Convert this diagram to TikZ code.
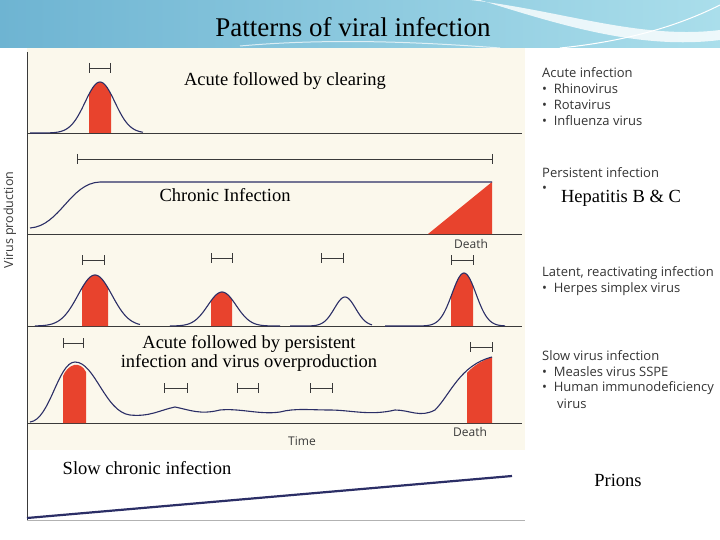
\documentclass[tikz,border=0pt]{standalone}
\usepackage{fontspec}
\setmainfont{Liberation Serif}
\newfontfamily\lab{Open Sans}
\begin{document}
\begin{tikzpicture}[x=1pt,y=-1pt]
\definecolor{cream}{HTML}{FBF8EC}
\definecolor{vred}{HTML}{E8432D}
\definecolor{navy}{HTML}{2B2E66}
\definecolor{axg}{HTML}{3A3A3A}
\tikzset{curve/.style={navy,line width=1.1pt},
 axis/.style={axg,line width=0.8pt},
 mk/.style={axg,line width=0.6pt},
 serif/.style={font=\fontsize{18.5}{19}\selectfont,align=center},
 lbl/.style={font=\lab\fontsize{13}{15}\selectfont,anchor=west,text=axg!90!black,inner sep=0}}
\newcommand\mymark[3]{\draw[mk] (#1,#3)--(#2,#3) (#1,#3-5)--(#1,#3+5) (#2,#3-5)--(#2,#3+5);}
\newcommand\mybell[8]{% c h s base a b r1 r2
 \ifx\relax#7\relax\else
 \fill[vred] (#7,#4) -- plot[domain=#7:#8,samples=30] (\x,{#4-#2*exp(-((\x-#1)/#3)^2)}) -- (#8,#4) -- cycle;\fi
 \draw[curve] plot[domain=#5:#6,samples=80] (\x,{#4-#2*exp(-((\x-#1)/#3)^2)});}
\useasboundingbox (0,0) rectangle (720,540);
\fill[white] (0,0) rectangle (720,540);
% banner
\shade[left color={rgb,255:red,110;green,180;blue,210}, right color={rgb,255:red,170;green,222;blue,235}] (0,0) rectangle (720,48);
\fill[white,opacity=0.8] (470,0) .. controls (560,10) and (640,40) .. (720,30) -- (720,40) .. controls (640,50) and (560,25) .. (480,0) -- cycle;
\draw[white,line width=1pt] (560,48) .. controls (640,40) and (690,20) .. (720,5);
\draw[white,line width=1pt,opacity=0.7] (240,46) .. controls (330,38) and (420,42) .. (500,48);
\node (title) at (353,27) {\fontsize{27}{30}\selectfont Patterns of viral infection};
% chart background
\fill[cream] (27,48) rectangle (525,450);
\draw[axis] (27,52) -- (27,520);
\foreach \yy in {133,234,326,423} \draw[axis] (27,\yy) -- (522,\yy);
\draw[gray!60] (27,520) -- (525,520);
\node[rotate=90,font=\lab\fontsize{12.5}{14}\selectfont,text=axg] (vp) at (10,220) {Virus production};
% panel 1
\mybell{100}{51}{21}{133}{30}{143}{89}{111}
\mymark{89}{110}{68}
\node[serif] (t1) at (285,81) {Acute followed by clearing};
% panel 2
\mymark{77}{492}{159}
\fill[vred] (428,234) -- (492,182) -- (492,234) -- cycle;
\draw[curve] (30,228) .. controls (60,226) and (70,183) .. (100,182) -- (492,182);
\node[font=\lab\fontsize{12}{14}\selectfont,text=axg] (d1) at (471,244) {Death};
\node[serif] (t2) at (225,195) {Chronic Infection};
% panel 3
\mybell{95}{51}{24}{326}{35}{140}{82}{108}
\mybell{222}{34}{20}{326}{170}{280}{211}{232}
\mybell{345}{29}{15}{326}{290}{372}{}{}
\mybell{464}{53}{17}{326}{385}{505}{451}{473}
\mymark{82}{104}{260}
\mymark{211}{232}{258}
\mymark{321}{343}{258}
\mymark{451}{473}{260}
% panel 4
\fill[vred] (63,423) -- (63,376) .. controls (68,364) and (80,360) .. (86,372) -- (86,423) -- cycle;
\fill[vred] (467,423) -- (467,373) .. controls (475,364) and (484,360) .. (492,357) -- (492,423) -- cycle;
\draw[curve] (30,422) .. controls (50,420) and (58,362) .. (75,362) .. controls (95,362) and (105,412) .. (130,415)
 .. controls (150,417) and (160,410) .. (175,407) .. controls (190,410) and (200,415) .. (220,410)
 .. controls (240,408) and (260,415) .. (280,412) .. controls (295,408) and (310,410) .. (330,410)
 .. controls (350,410) and (370,416) .. (395,410) .. controls (410,410) and (420,418) .. (435,410)
 .. controls (450,395) and (460,365) .. (492,357);
\mymark{63}{83}{343}
\mymark{164}{187}{388}
\mymark{237}{258}{388}
\mymark{310}{332}{388}
\mymark{470}{492}{347}
\node[font=\lab\fontsize{12}{14}\selectfont,text=axg] (d2) at (470,432) {Death};
\node[font=\lab\fontsize{12}{14}\selectfont,text=axg] (tm) at (302,441) {Time};
\node[serif,text=black] (t3) at (249,353) {Acute followed by persistent\\infection and virus overproduction};
% bottom
\draw[navy,line width=2.2pt] (27,518) -- (512,476);
\node[serif] (t4) at (147,468) {Slow chronic infection};
\node[serif] (t5) at (618,480) {Prions};
% right labels
\node[lbl] (a0) at (542,73) {Acute infection};
\node[lbl] (a1) at (542,89) {\textbullet\ \ Rhinovirus};
\node[lbl] (a2) at (542,105) {\textbullet\ \ Rotavirus};
\node[lbl] (a3) at (542,121) {\textbullet\ \ Influenza virus};
\node[lbl] (b0) at (542,173) {Persistent infection};
\node[lbl] (b1) at (542,189) {\textbullet};
\node[serif] (hb) at (621,198) {Hepatitis B \& C};
\node[lbl] (c0) at (542,273) {Latent, reactivating infection};
\node[lbl] (c1) at (542,289) {\textbullet\ \ Herpes simplex virus};
\node[lbl] (e0) at (542,356) {Slow virus infection};
\node[lbl] (e1) at (542,372) {\textbullet\ \ Measles virus SSPE};
\node[lbl] (e2) at (542,388) {\textbullet\ \ Human immunodeficiency};
\node[lbl] (e3) at (557,404) {virus};
\end{tikzpicture}
\end{document}
